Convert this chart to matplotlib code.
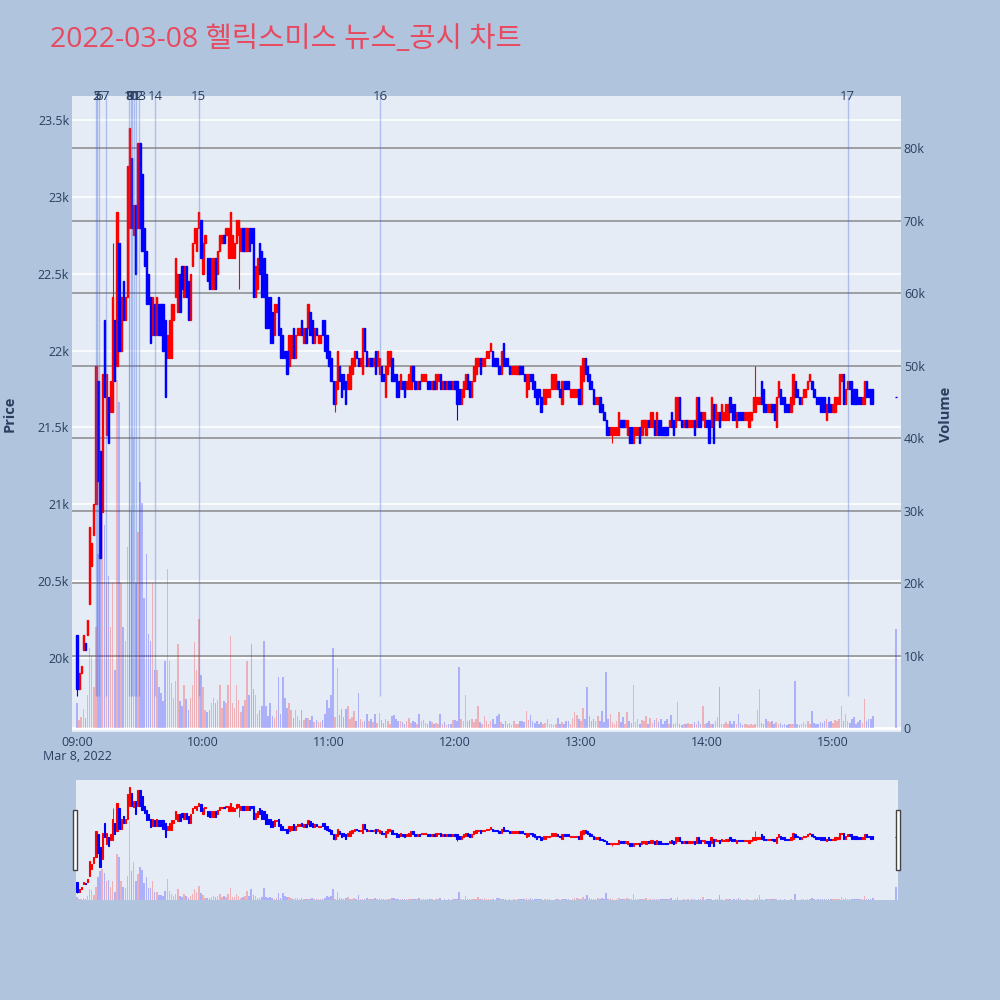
import numpy as np
import pandas as pd
import matplotlib
matplotlib.use("Agg")
import matplotlib.pyplot as plt
import matplotlib.dates as mdates
from matplotlib.patches import Rectangle
from matplotlib.transforms import blended_transform_factory
from matplotlib.ticker import FixedLocator

plt.rcParams['font.family'] = ['Open Sans', 'Noto Sans CJK KR', 'DejaVu Sans']

TITLE = "2022-03-08 헬릭스미스 뉴스_공시 차트"
START = "2022-03-08 09:00"

# 1분봉 시가 / 종가 (09:00 ~ 15:19)
opens_a = [20150, 19800, 19900, 20050, 20100, 20150, 20350, 20600, 20800, 21000,
           21800, 21350, 20950, 22200, 21450, 21700, 21600, 21600, 22200, 21900,
           22700, 22000, 22450, 22200, 22350, 22800, 23250, 22750, 22950, 22800,
           23350, 23150, 22800, 22650, 22500, 22350, 22100, 22300, 22100, 22300,
           22300, 22300, 22200, 21950, 21950, 21950, 22200, 22350, 22250, 22500,
           22550, 22350, 22550, 22450, 22200, 22550, 22700, 22650, 22800, 22850,
           22500, 22700, 22600, 22600, 22400, 22400, 22600, 22500, 22650, 22700,
           22750, 22750, 22600, 22600, 22600, 22600, 22700, 22750, 22650, 22800,
           22650, 22650, 22800, 22800, 22800, 22350, 22400, 22700, 22650, 22600,
           22500, 22350, 22350, 22250, 22100, 22250, 22350, 22150, 22100, 22000,
           22000, 21900, 21950, 22150, 21950, 22100, 22100, 22200, 22050, 22150,
           22150, 22250, 22200, 22050, 22150, 22050, 22050, 22200, 22200, 22100,
           22000, 21950, 21800]
closes_a = [19800, 19900, 19950, 20150, 20050, 20250, 20850, 20750, 21000, 21900,
            21150, 20650, 21850, 21700, 21850, 21400, 21800, 22350, 21800, 22900,
            22000, 22350, 22200, 22350, 23200, 23450, 22800, 22950, 22500, 23350,
            22800, 22650, 22550, 22300, 22300, 22050, 22350, 22100, 22350, 22100,
            22100, 22000, 21700, 22100, 22200, 22300, 22300, 22600, 22500, 22250,
            22400, 22550, 22350, 22200, 22500, 22700, 22800, 22800, 22900, 22600,
            22700, 22750, 22450, 22400, 22600, 22600, 22400, 22650, 22750, 22750,
            22700, 22800, 22800, 22900, 22750, 22700, 22850, 22850, 22800, 22650,
            22800, 22800, 22650, 22700, 22350, 22550, 22600, 22500, 22350, 22350,
            22150, 22150, 22050, 22050, 22300, 22300, 22100, 21950, 21950, 21950,
            21850, 22100, 22100, 21950, 22100, 22150, 22150, 22100, 22150, 22050,
            22300, 22100, 22050, 22150, 22100, 22100, 22100, 22100, 22000, 21950,
            21900, 21800, 21650]

opens_b = [21650, 21750, 21900, 21850, 21850, 21800, 21750, 21750, 21850, 21900,
           22000, 21950, 21900, 21850, 22150, 22000, 21900, 21950, 21900, 22000,
           21900, 21850, 21900, 21850, 21700, 21850, 21900, 21950, 21850, 21850, 21800, 21750, 21800,
           21800, 21750, 21750, 21750, 21900, 21800, 21750,
           21800, 21800, 21800, 21800, 21800, 21800, 21750, 21800, 21750, 21800, 21850,
           21750, 21800, 21750, 21800, 21800, 21750, 21800, 21800, 21750, 21650,
           21700, 21750, 21850, 21800, 21700, 21800, 21850, 21900, 21950, 21900,
           21900, 21950, 21950, 22000, 22000, 21950, 21950, 21900, 21850, 22050,
           21950, 21950, 21900, 21850,
           21850, 21850, 21850, 21900, 21900, 21850, 21700, 21750, 21850, 21850,
           21800, 21750, 21750, 21700, 21650, 21650, 21700, 21700, 21750, 21750,
           21750, 21800, 21750, 21650, 21800, 21800, 21800, 21700,
           21700, 21700, 21700, 21750, 21650, 21800, 21950, 21900, 21850, 21800,
           21750, 21650, 21650, 21700, 21650, 21600, 21550, 21500, 21450, 21450, 21450, 21450, 21450]
closes_b = [21800, 22000, 21800, 21700, 21750, 21650, 21850, 21900, 21950, 22000,
            21950, 21900, 21950, 22150, 22000, 21900, 21950, 21900, 21950, 21850,
            22000, 21950, 21800, 21800, 21900, 22000, 22000, 21800, 21800, 21700, 21700, 21850, 21750,
            21700, 21800, 21850, 21900, 21800, 21750, 21800,
            21750, 21850, 21850, 21850, 21750, 21750, 21800, 21750, 21850, 21850, 21750,
            21800, 21750, 21800, 21750, 21750, 21800, 21750, 21650, 21650, 21750,
            21800, 21850, 21750, 21700, 21800, 21900, 21950, 21950, 21850, 21950,
            21950, 22000, 22000, 22050, 21900, 21900, 21900, 21850, 22000, 21900,
            21900, 21900, 21850, 21900,
            21900, 21900, 21900, 21850, 21850, 21800, 21850, 21850, 21800, 21750,
            21700, 21650, 21700, 21600, 21750, 21750, 21750, 21750, 21850, 21850,
            21850, 21750, 21700, 21800, 21750, 21750, 21750, 21750,
            21750, 21750, 21750, 21650, 21900, 21950, 21850, 21800, 21750, 21750,
            21650, 21700, 21700, 21600, 21600, 21550, 21450, 21450, 21500, 21500, 21500, 21500, 21600]

opens_c = [21550, 21550, 21500, 21450, 21500, 21500, 21400, 21450, 21450, 21500,
           21450, 21500, 21450, 21550, 21500, 21500, 21550, 21450, 21550, 21550,
           21500, 21500, 21500, 21500, 21600, 21550, 21500, 21550, 21700, 21550,
           21500, 21550, 21500, 21500, 21500, 21550, 21500, 21700, 21600, 21550,
           21500, 21550, 21550, 21500, 21650, 21550, 21550, 21600, 21550,
           21550, 21550, 21550, 21700, 21650, 21650, 21500, 21600, 21600, 21600,
           21550, 21550, 21500, 21550, 21600, 21600, 21650, 21650, 21800, 21750,
           21650, 21600, 21600, 21650, 21650, 21500, 21700, 21750, 21700, 21700,
           21650, 21650, 21600, 21650, 21800, 21750, 21700, 21650, 21700, 21700,
           21750, 21800, 21800, 21750, 21700, 21700, 21700, 21700, 21700, 21550,
           21700, 21650, 21600, 21600, 21650, 21650, 21800, 21850, 21650, 21750,
           21800, 21800, 21750, 21750, 21700, 21700, 21650, 21650, 21800, 21750, 21750, 21750]
closes_c = [21500, 21500, 21550, 21550, 21400, 21400, 21500, 21500, 21500, 21400,
            21550, 21550, 21550, 21500, 21600, 21600, 21450, 21600, 21450, 21450,
            21450, 21450, 21450, 21550, 21500, 21450, 21700, 21700, 21550, 21500,
            21550, 21500, 21550, 21550, 21550, 21450, 21700, 21500, 21500, 21600,
            21600, 21500, 21400, 21700, 21400, 21650, 21600, 21500, 21650,
            21600, 21650, 21650, 21600, 21550, 21550, 21600, 21550, 21550, 21550,
            21600, 21600, 21600, 21600, 21700, 21700, 21700, 21700, 21650, 21600,
            21600, 21650, 21650, 21600, 21550, 21700, 21800, 21650, 21650, 21600,
            21600, 21600, 21700, 21850, 21700, 21700, 21650, 21700, 21750, 21750,
            21800, 21850, 21750, 21700, 21650, 21650, 21600, 21600, 21600, 21650,
            21600, 21600, 21650, 21700, 21700, 21850, 21850, 21650, 21750, 21800,
            21750, 21650, 21650, 21650, 21650, 21650, 21700, 21800, 21700, 21700, 21650, 21650]

# 거래량 (천 주)
volumes_a = [3.4, 1.1, 1.5, 2.6, 1.4, 4.5, 11, 10, 5.6, 14,
             24, 30, 32, 28, 20, 21, 14, 20, 8, 48,
             45, 20, 14, 12, 25, 82, 30, 40, 20, 27,
             34, 31, 18, 24, 13, 12, 20, 8, 8, 5.6,
             4.8, 3.7, 9.3, 22, 9.3, 6.2, 4.2, 6.5, 11.6, 3.7,
             3.1, 6, 4, 2.5, 4.2, 6, 11.8, 8, 15, 7.3,
             5.6, 2.5, 2.2, 2.5, 3.4, 4.2, 3.4, 3.9, 6, 2.8,
             3.7, 3.4, 6, 12.7, 3.4, 2.8, 6, 3.9, 2.2, 3.1,
             3.9, 9.3, 4.5, 11.6, 5.4, 4.5, 2, 2.5, 3.1, 12,
             3.1, 1.7, 3.4, 1.7, 1.4, 2.5, 7, 2, 7, 4.2,
             2.8, 3.4, 2.5, 1.4, 2.5, 1.7, 1.1, 2.5, 1.1, 1.4,
             1.4, 1.1, 1.7, 0.8, 1.1, 0.8, 0.8, 1.1, 2, 3.9,
             2.8, 4.5, 11]
volumes_b = [1.5, 8.3, 1.8, 2.6, 1.5, 2.6, 3, 1.2, 1.5, 2.3,
             1.0, 4.8, 1.2, 0.8, 1.0, 1.9, 0.9, 1.2, 0.8, 1.9,
             0.7, 2.1, 1.1, 0.7, 1.3, 1.0, 0.6, 1.6, 1.8, 1.2,
             0.9, 1.0, 0.8, 0.6, 0.9, 1.4, 0.7, 1.0, 0.8, 0.6,
             1.9, 0.9, 1.1, 0.7, 0.6, 1.0, 0.8, 0.5, 0.7, 0.6,
             2.0, 0.5, 0.8, 0.4, 0.6, 0.5, 1.1, 1.1, 1.0, 8.4,
             1.2, 1.0, 4.5, 0.9, 1.1, 1.3, 0.8, 1.2, 3.0, 0.8,
             0.6, 1.7, 1.0, 0.6, 0.9, 1.3, 0.5, 1.7, 1.9, 0.8,
             0.6, 0.9, 0.5, 0.7, 0.4, 0.9, 0.5, 0.6, 1.0, 1.0,
             0.8, 2.4, 1.1, 1.8, 0.9, 0.7, 1.0, 0.6, 0.8, 0.5,
             0.7, 1.2, 0.6, 0.5, 0.4, 0.6, 1.4, 0.5, 0.8, 0.6,
             0.9, 1.0, 0.5, 1.4, 2.2, 1.8, 1.2, 0.9, 2.8, 1.3,
             5.6, 1.6, 1.0, 1.2, 0.9, 1.6, 1.0, 2.4, 0.8, 7.7,
             1.2, 2.0, 0.8, 0.5, 1.0, 2.2]
volumes_c = [0.8, 1.5, 0.6, 2.2, 1.0, 0.7, 5.9, 0.8, 1.2, 0.6,
             1.1, 0.9, 1.6, 0.5, 1.4, 0.7, 1.1, 1.4, 0.8, 1.3,
             0.6, 0.9, 1.2, 0.6, 1.8, 0.5, 0.7, 3.6, 0.5, 0.4,
             0.6, 0.5, 0.7, 0.5, 0.6, 0.8, 0.5, 0.9, 0.6, 3.0,
             0.5, 0.7, 1.0, 0.6, 0.5, 0.9, 1.5, 5.6, 0.6, 0.5,
             0.8, 0.6, 1.0, 0.5, 0.9, 0.6, 2.0, 0.7, 0.4, 0.5,
             0.6, 0.4, 0.5, 0.4, 0.6, 2.5, 5.4, 0.7, 0.5, 1.2,
             0.9, 0.8, 1.0, 0.6, 0.8, 0.5, 0.7, 0.4, 0.6, 0.4,
             0.5, 0.6, 0.5, 6.5, 0.5, 0.4, 0.6, 0.8, 0.5, 0.9,
             0.6, 2.3, 0.7, 0.5, 0.6, 0.8, 0.7, 0.9, 1.2, 0.8,
             1.0, 0.7, 1.1, 0.9, 1.3, 3.0, 1.0, 2.0, 0.9, 0.7,
             1.2, 1.5, 0.6, 0.8, 1.1, 0.7, 4.0, 1.0, 1.3, 1.2,
             1.6]

# 꼬리(저가/고가)가 몸통 밖으로 나간 봉
wick_low = {0: 19750, 77: 22400, 123: 21600, 181: 21550, 255: 21400}
wick_high = {17: 22700, 323: 21900}

# 동시호가 (15:30)
auction_time = "2022-03-08 15:30"
auction_price = 21700
auction_volume = 13.6

# 뉴스/공시 시각
news_ids = ["2", "5", "6", "7", "8", "9", "10", "11", "12", "13", "14", "15", "16", "17"]
news_times = ["09:08:54", "09:09:30", "09:10:35", "09:13:40", "09:24:55", "09:25:30",
              "09:26:00", "09:27:05", "09:28:20", "09:29:30", "09:37:05", "09:57:55",
              "11:24:20", "15:07:05"]

UP = "#ff0000"
DOWN = "#0000ff"
TXT = "#2a3f5f"
PLOT_BG = "#e5ecf6"
FIG_BG = "#b0c4de"

opens = np.array(opens_a + opens_b + opens_c + [auction_price], dtype=float)
closes = np.array(closes_a + closes_b + closes_c + [auction_price], dtype=float)
volumes = np.array(volumes_a + volumes_b + volumes_c + [auction_volume]) * 1000
n = len(opens_a + opens_b + opens_c)
times = list(pd.date_range(START, periods=n, freq="min")) + [pd.Timestamp(auction_time)]
x = mdates.date2num([t.to_pydatetime() for t in times])

lows = np.minimum(opens, closes)
highs = np.maximum(opens, closes)
for i, v in wick_low.items():
    lows[i] = v
for i, v in wick_high.items():
    highs[i] = v

MIN = 1 / 1440.0
t0 = mdates.date2num(pd.Timestamp(START).to_pydatetime())
up = closes > opens


def draw_candles(ax, body_w, lw, wick_lw):
    for mask, col in ((up, UP), (~up, DOWN)):
        ax.vlines(x[mask], lows[mask], highs[mask], color=col, lw=wick_lw, zorder=3)
        ax.bar(x[mask], np.abs(closes - opens)[mask],
               bottom=np.minimum(opens, closes)[mask], width=body_w * MIN,
               color=col, edgecolor=col, linewidth=lw, zorder=3)


def draw_volume(ax, width):
    cols = np.where(up, UP, DOWN)
    ax.bar(x, volumes, width=width * MIN, color=cols, alpha=0.25, linewidth=0, zorder=2)


fig = plt.figure(figsize=(10, 10), dpi=100)
fig.patch.set_facecolor(FIG_BG)

# ---------- 메인 차트 ----------
axv = fig.add_axes([0.072, 0.268, 0.829, 0.636])
axv.set_facecolor(PLOT_BG)
axp = axv.twinx()

p_lo, p_hi = 19519, 23656
axv.set_xlim(t0 - 2.38 * MIN, t0 + 392.4 * MIN)
axv.set_ylim(-550, 87200)
axp.set_ylim(p_lo, p_hi)

# 격자: 거래량(회색), 가격(흰색)
vol_ticks = np.arange(0, 80001, 10000)
for v in vol_ticks[1:]:
    axv.axhline(v, color="#8a8a8a", lw=1.1, zorder=0.6)
axv.axhline(0, color="white", lw=2, zorder=0.6)
price_ticks = np.arange(20000, 23501, 500)
tr = blended_transform_factory(axv.transAxes, axp.transData)
for p in price_ticks:
    axv.plot([0, 1], [p, p], transform=tr, color="white", lw=1.1, zorder=0.5)

draw_volume(axv, 0.75)
draw_candles(axp, 0.6, 1.0, 0.8)

# 뉴스 세로선
day_low = lows.min()
xt = blended_transform_factory(axp.transData, axp.transAxes)
for nid, nt in zip(news_ids, news_times):
    nx = mdates.date2num(pd.Timestamp("2022-03-08 " + nt).to_pydatetime())
    axp.vlines(nx, day_low, p_hi, color="royalblue", alpha=0.35, lw=1.0, zorder=4)
    axp.text(nx, 1.0, nid, transform=xt, ha="center", va="center", fontsize=9.5,
             color=TXT, clip_on=False, zorder=5)

for a in (axv, axp):
    for s in a.spines.values():
        s.set_visible(False)

axv.yaxis.tick_right()
axv.yaxis.set_major_locator(FixedLocator(vol_ticks))
axv.set_yticklabels(["0"] + [f"{int(v / 1000)}k" for v in vol_ticks[1:]])
axv.tick_params(axis="y", length=0, pad=2, labelsize=9, labelcolor=TXT)
axp.yaxis.tick_left()
axp.yaxis.set_major_locator(FixedLocator(price_ticks))
axp.set_yticklabels([f"{p / 1000:g}k" for p in price_ticks])
axp.tick_params(axis="y", length=0, pad=2, labelsize=9, labelcolor=TXT)

hour_ticks = [t0 + h * 60 * MIN for h in range(7)]
axv.xaxis.set_major_locator(FixedLocator(hour_ticks))
axv.xaxis.set_major_formatter(mdates.DateFormatter("%H:%M"))
axv.tick_params(axis="x", length=0, pad=3, labelsize=9, labelcolor=TXT)
axp.tick_params(axis="x", labelbottom=False, length=0)

fig.text(0.077, 1 - 0.757, "Mar 8, 2022", ha="center", va="center", fontsize=9, color=TXT)
fig.text(0.010, 1 - 0.414, "Price", rotation=90, ha="center", va="center",
         fontsize=10.5, fontweight="bold", color=TXT)
fig.text(0.946, 1 - 0.414, "Volume", rotation=90, ha="center", va="center",
         fontsize=10.5, fontweight="bold", color=TXT)
fig.text(0.05, 0.96, TITLE, ha="left", va="center", fontsize=20.5, color="#e8495f")

# ---------- 레인지 슬라이더 ----------
slv = fig.add_axes([0.076, 0.100, 0.822, 0.120])
slv.set_facecolor(PLOT_BG)
slp = slv.twinx()
slv.set_xlim(t0 - 0.48 * MIN, t0 + 391.0 * MIN)
slv.set_ylim(0, 125000)
slp.set_ylim(19505, 23695)
draw_volume(slv, 0.75)
draw_candles(slp, 0.6, 0.8, 0.6)
for a in (slv, slp):
    a.set_xticks([])
    a.set_yticks([])
    for s in a.spines.values():
        s.set_visible(False)

for hx in (0.073, 0.896):
    fig.patches.append(Rectangle((hx, 0.130), 0.004, 0.060, transform=fig.transFigure,
                                 facecolor="white", edgecolor="#444444", lw=1))

fig.savefig("out.png", dpi=100, facecolor=FIG_BG)
